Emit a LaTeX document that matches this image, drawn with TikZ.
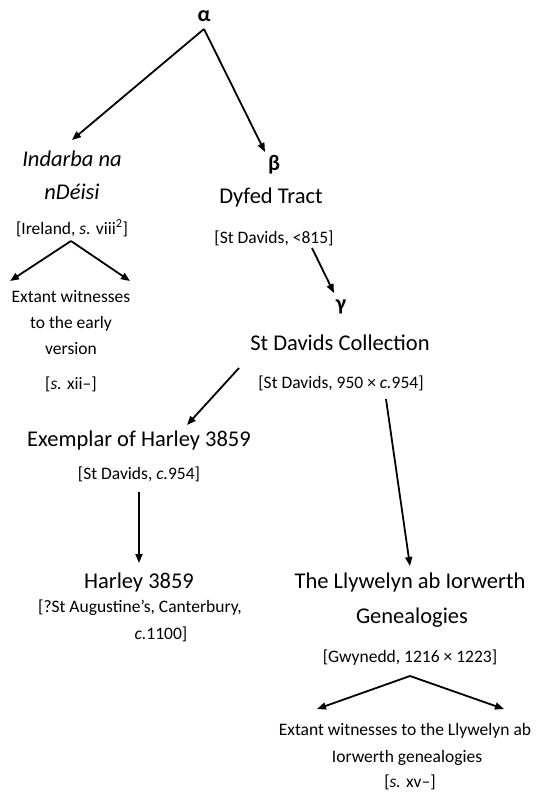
\documentclass[tikz,border=0pt]{standalone}
\usepackage{fontspec}
\setmainfont{Carlito}
\usetikzlibrary{arrows.meta,calc}
\begin{document}
\begin{tikzpicture}[x=1pt,y=-1pt,
  big/.style={font=\fontsize{22.5}{27}\selectfont, inner sep=0pt, anchor=base, text=black},
  small/.style={font=\fontsize{17.5}{21}\selectfont, inner sep=0pt, anchor=base, text=black},
  greek/.style={font=\fontsize{22}{26}\selectfont\bfseries, inner sep=0pt, anchor=base, text=black},
  arr/.style={-{Triangle[length=9pt,width=7pt]}, line width=1.8pt, black}]
\useasboundingbox (0,0) rectangle (543,793);
% nodes
\node[greek] (alpha) at (204,21) {α};
\node[big] (ind1) at (72,166) {\itshape Indarba na};
\node[big] (ind2) at (72,199) {\itshape nDéisi};
\node[small] (ire) at (72,234) {[Ireland, \textit{s.} viii\textsuperscript{2}]};
\node[small] (wit1) at (71,302) {Extant witnesses};
\node[small] (wit2) at (71,328) {to the early};
\node[small] (wit3e) at (71,354) {version};
\node[small] (wit4) at (71,389) {[\textit{s.} xii–]};
\node[greek] (beta) at (274,170) {β};
\node[big] (dyfed) at (271,203) {Dyfed Tract};
\node[small] (dyb) at (274,243) {[St Davids, <815]};
\node[greek] (gamma) at (341,310) {γ};
\node[big] (coll) at (340,350) {St Davids Collection};
\node[small] (collb) at (341,388) {[St Davids, 950 × \textit{c.}954]};
\node[big] (exem) at (139,446) {Exemplar of Harley 3859};
\node[small] (exb) at (139,479) {[St Davids, \textit{c.}954]};
\node[big] (harley) at (139,588) {Harley 3859};
\node[small] (aug1) at (140,612) {[?St Augustine’s, Canterbury,};
\node[small] (aug2) at (161,639) {\textit{c.}1100]};
\node[big] (llyw) at (410,588) {The Llywelyn ab Iorwerth};
\node[big] (gen) at (412,623) {Genealogies};
\node[small] (gwy) at (410,662) {[Gwynedd, 1216 × 1223]};
\node[small] (lw1) at (405,735) {Extant witnesses to the Llywelyn ab};
\node[small] (lw2) at (407,762) {Iorwerth genealogies};
\node[small] (lw3) at (410,787) {[\textit{s.} xv–]};
% connectors
\draw[arr] ($(alpha.base)+(0,8)$) -- ($(ind1.base)+(0,-26)$);
\draw[arr] ($(alpha.base)+(0,8)$) -- ($(beta.base)+(-9,-18)$);
\draw[arr] ($(ire.base)+(-1,7)$) -- ($(wit1.base)+(-61,-21)$);
\draw[arr] ($(ire.base)+(-1,7)$) -- ($(wit1.base)+(59,-21)$);
\draw[arr] ($(dyb.base)+(38,5)$) -- ($(gamma.base)+(-7,-17)$);
\draw[arr] ($(collb.base)+(-102,-20)$) -- ($(exem.base)+(48,-21)$);
\draw[arr] ($(collb.base)+(45,11)$) -- ($(llyw.base)+(0,-22)$);
\draw[arr] ($(exb.base)+(0,13)$) -- ($(harley.base)+(0,-25)$);
\draw[arr] ($(gwy.base)+(0,14)$) -- ($(lw1.base)+(-88,-26)$);
\draw[arr] ($(gwy.base)+(0,14)$) -- ($(lw1.base)+(99,-26)$);
\end{tikzpicture}
\end{document}
